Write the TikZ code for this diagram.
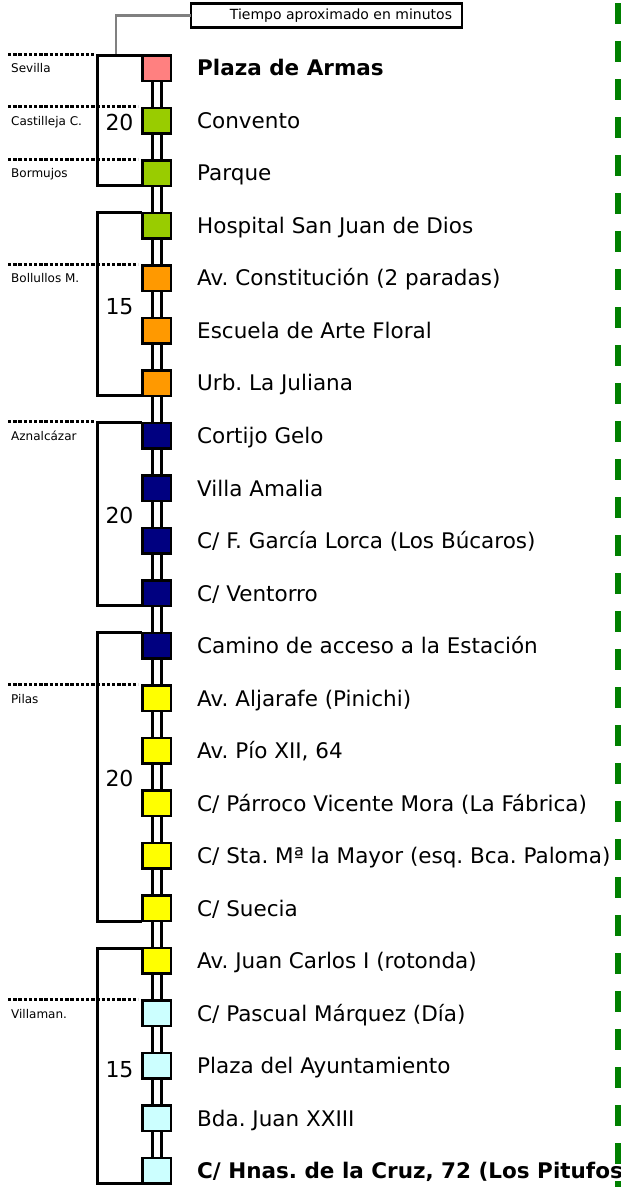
\documentclass[tikz,border=0pt]{standalone}
\usepackage{fontspec}
\setmainfont{DejaVu Sans}
\usetikzlibrary{backgrounds}
\definecolor{cSalmon}{HTML}{FF8080}
\definecolor{cGreen}{HTML}{99CC00}
\definecolor{cOrange}{HTML}{FF9900}
\definecolor{cNavy}{HTML}{000080}
\definecolor{cYellow}{HTML}{FFFF00}
\definecolor{cCyan}{HTML}{CCFFFF}
\definecolor{cDash}{HTML}{008000}
\newcommand\mystop[3]{%
  \node[stopbox, fill=#2] (s#1) at (156.5,{68+(#1-1)*52.52}) {};
  \node[stoptext] (t#1) at (197,{68+(#1-1)*52.52}) {#3};}
\newcommand\mytown[4]{%
  \coordinate (d#1a) at (8,{54+(#2-1)*52.52});
  \coordinate (d#1b) at (#3,{54+(#2-1)*52.52});
  \draw[townline] (d#1a) -- (d#1b);
  \node[towntext] (l#1) at (11,{68.5+(#2-1)*52.52}) {#4};}
\frenchspacing
\begin{document}
\begin{tikzpicture}[x=1pt,y=-1pt,
  stopbox/.style={draw=black, line width=2.5pt, minimum width=28.5pt, minimum height=25.5pt, inner sep=0pt, outer sep=0pt},
  stoptext/.style={anchor=west, inner sep=0pt, text height=15.7pt, text depth=0pt, font=\fontsize{21.5}{25}\selectfont},
  towntext/.style={anchor=west, inner sep=0pt, text height=8.7pt, text depth=0pt, font=\fontsize{12}{14}\selectfont},
  townline/.style={line width=3pt, dash pattern=on 3.4pt off 1.8pt},
  bracket/.style={line width=3pt},
  rail/.style={line width=2.8pt},
  numtext/.style={font=\fontsize{22}{26}\selectfont, inner sep=0pt, text height=16pt, text depth=0pt},
  graylink/.style={draw=black!50, line width=2.2pt},
  greendash/.style={draw=cDash, line width=5.5pt, dash pattern=on 21pt off 17pt},
  titlebox/.style={draw=black, line width=2.8pt, minimum width=271pt, minimum height=24pt, inner sep=0pt, outer sep=0pt},
  titletext/.style={font=\fontsize{14}{16}\selectfont, inner sep=0pt}
]
\useasboundingbox (0,0) rectangle (621,1187);

% title box
\node[titlebox] (tbox) at (326.5,15.5) {};
\node[titletext] (ttext) at (341,15.5) {Tiempo aproximado en minutos};
\coordinate (g1) at (116,54);
\draw[graylink] (tbox.west) -| (g1);

% stops
\mystop{1}{cSalmon}{\textbf{Plaza de Armas}}
\mystop{2}{cGreen}{Convento}
\mystop{3}{cGreen}{Parque}
\mystop{4}{cGreen}{Hospital San Juan de Dios}
\mystop{5}{cOrange}{Av. Constitución (2 paradas)}
\mystop{6}{cOrange}{Escuela de Arte Floral}
\mystop{7}{cOrange}{Urb. La Juliana}
\mystop{8}{cNavy}{Cortijo Gelo}
\mystop{9}{cNavy}{Villa Amalia}
\mystop{10}{cNavy}{C/ F. García Lorca (Los Búcaros)}
\mystop{11}{cNavy}{C/ Ventorro}
\mystop{12}{cNavy}{Camino de acceso a la Estación}
\mystop{13}{cYellow}{Av. Aljarafe (Pinichi)}
\mystop{14}{cYellow}{Av. Pío XII, 64}
\mystop{15}{cYellow}{C/ Párroco Vicente Mora (La Fábrica)}
\mystop{16}{cYellow}{C/ Sta. Mª la Mayor (esq. Bca. Paloma)}
\mystop{17}{cYellow}{C/ Suecia}
\mystop{18}{cYellow}{Av. Juan Carlos I (rotonda)}
\mystop{19}{cCyan}{C/ Pascual Márquez (Día)}
\mystop{20}{cCyan}{Plaza del Ayuntamiento}
\mystop{21}{cCyan}{Bda. Juan XXIII}
\mystop{22}{cCyan}{\textbf{C/ Hnas. de la Cruz, 72 (Los Pitufos)}}

% rails
\begin{scope}[on background layer]
\draw[rail] ([xshift=-4.25pt]s1.center) -- ([xshift=-4.25pt]s22.center);
\draw[rail] ([xshift=5pt]s1.center) -- ([xshift=5pt]s22.center);
\end{scope}

% brackets
\draw[bracket] (s1.north west) -- ++(-45,0) |- (s3.south west);
\draw[bracket] (s4.north west) -- ++(-45,0) |- (s7.south west);
\draw[bracket] (s8.north west) -- ++(-45,0) |- (s11.south west);
\draw[bracket] (s12.north west) -- ++(-45,0) |- (s17.south west);
\draw[bracket] (s18.north west) -- ++(-45,0) |- (s22.south west);

% times
\node[numtext] (n1) at (119.5,122) {20};
\node[numtext] (n2) at (119.5,306) {15};
\node[numtext] (n3) at (119.5,515.5) {20};
\node[numtext] (n4) at (119.5,778.5) {20};
\node[numtext] (n5) at (119.5,1069) {15};

% towns
\mytown{sev}{1}{94}{Sevilla}
\mytown{cas}{2}{138}{Castilleja C.}
\mytown{bor}{3}{138}{Bormujos}
\mytown{bol}{5}{138}{Bollullos M.}
\mytown{azn}{8}{94}{Aznalcázar}
\mytown{pil}{13}{138}{Pilas}
\mytown{vil}{19}{138}{Villaman.}

% green dashed line
\coordinate (ga) at (618,3);
\coordinate (gb) at (618,1200);
\draw[greendash] (ga) -- (gb);
\end{tikzpicture}
\end{document}
